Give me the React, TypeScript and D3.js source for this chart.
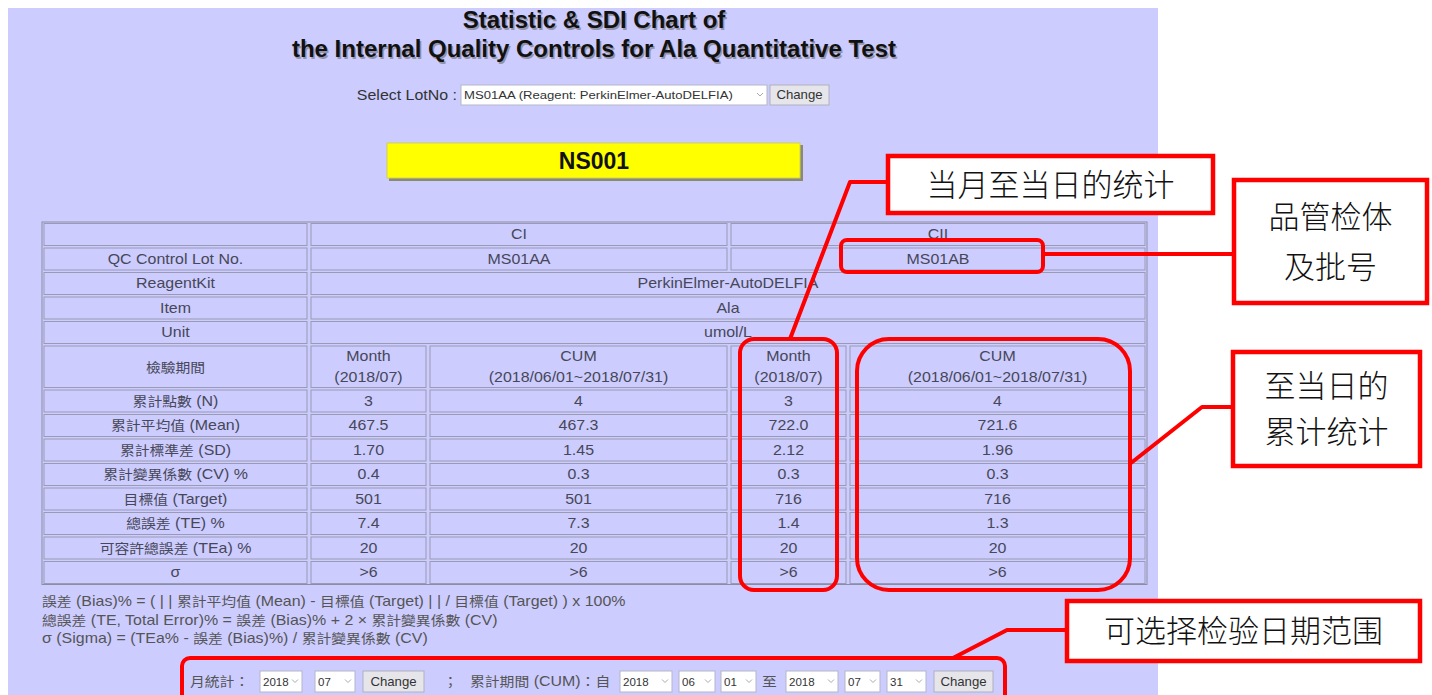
import React, { useEffect, useRef } from "react";
import * as d3 from "d3";

const titleLines = ["Statistic & SDI Chart of", "the Internal Quality Controls for Ala Quantitative Test"];
const lotOption = "MS01AA (Reagent: PerkinElmer-AutoDELFIA)";
const analyteCode = "NS001";

const levels = ["CI", "CII"];
const lotNos = ["MS01AA", "MS01AB"];
const infoLabels = ["QC Control Lot No.", "ReagentKit", "Item", "Unit"];
const infoValues = ["", "PerkinElmer-AutoDELFIA", "Ala", "umol/L"];
const periodLabel = "檢驗期間";
const periodHeads = [["Month", "(2018/07)"], ["CUM", "(2018/06/01~2018/07/31)"]];

const statLabels = [
	"累計點數 (N)",
	"累計平均值 (Mean)",
	"累計標準差 (SD)",
	"累計變異係數 (CV) %",
	"目標值 (Target)",
	"總誤差 (TE) %",
	"可容許總誤差 (TEa) %",
	"σ",
];
const ciMonth = ["3", "467.5", "1.70", "0.4", "501", "7.4", "20", ">6"];
const ciCum = ["4", "467.3", "1.45", "0.3", "501", "7.3", "20", ">6"];
const ciiMonth = ["3", "722.0", "2.12", "0.3", "716", "1.4", "20", ">6"];
const ciiCum = ["4", "721.6", "1.96", "0.3", "716", "1.3", "20", ">6"];

const formulas = [
	"誤差 (Bias)% = ( | | 累計平均值 (Mean) - 目標值 (Target) | | / 目標值 (Target) ) x 100%",
	"總誤差 (TE, Total Error)% = 誤差 (Bias)% + 2 × 累計變異係數 (CV)",
	"σ (Sigma) = (TEa% - 誤差 (Bias)%) / 累計變異係數 (CV)",
];

const notes = [
	["当月至当日的统计"],
	["品管检体", "及批号"],
	["至当日的", "累计统计"],
	["可选择检验日期范围"],
];

const W = 1432;
const H = 695;
const LAV = "#ccccff";
const RED = "#ff0000";
const SANS = "'Liberation Sans', Arial, 'Noto Sans CJK TC', sans-serif";
const CJK = "'Noto Sans CJK SC', sans-serif";
const SX = 1.14;

type Sel = d3.Selection<any, unknown, null, undefined>;

// text with a slight horizontal stretch; CJK runs a touch smaller like the bitmap font in the page
const stretchText = (
	parent: Sel,
	x: number,
	y: number,
	str: string,
	opt: { size?: number; cjk?: number; anchor?: string; fill?: string; sx?: number } = {}
) => {
	const size = opt.size ?? 14;
	const t = parent.append("text")
		.attr("transform", `translate(${x},${y}) scale(${opt.sx ?? SX},1)`)
		.attr("text-anchor", opt.anchor ?? "middle")
		.attr("font-family", SANS).attr("font-size", size)
		.attr("fill", opt.fill ?? "#474757");
	const runs = str.match(/[\u3000-\u9fff\uff00-\uffef]+|[^\u3000-\u9fff\uff00-\uffef]+/g) || [];
	runs.forEach((r) => {
		const isCjk = /[\u3000-\u9fff\uff00-\uffef]/.test(r);
		t.append("tspan").attr("font-size", isCjk ? opt.cjk ?? size - 1 : size).text(r);
	});
	return t;
};

const App: React.FC = () => {
	const svgRef = useRef<SVGSVGElement | null>(null);

	useEffect(() => {
		const svg: Sel = d3.select(svgRef.current);
		svg.selectAll("*").remove();

		svg.append("rect").attr("width", W).attr("height", H).attr("fill", "#fff");
		svg.append("rect").attr("x", 8).attr("y", 8).attr("width", 1150).attr("height", H).attr("fill", LAV);

		// title
		const cx = 594;
		titleLines.forEach((t, i) => {
			const y = 28 + i * 29;
			svg.append("text").attr("x", cx + 1.5).attr("y", y + 1.5).attr("text-anchor", "middle")
				.attr("font-family", SANS).attr("font-weight", "bold").attr("font-size", 24)
				.attr("fill", "#666").attr("opacity", 0.55).text(t);
			svg.append("text").attr("x", cx).attr("y", y).attr("text-anchor", "middle")
				.attr("font-family", SANS).attr("font-weight", "bold").attr("font-size", 24)
				.attr("fill", "#111").text(t);
		});

		const selectBox = (x: number, y: number, w: number, h: number, label: string, fs = 11, sx = 1.05) => {
			svg.append("rect").attr("x", x).attr("y", y).attr("width", w).attr("height", h)
				.attr("fill", "#fff").attr("stroke", "#b5b5c8");
			stretchText(svg, x + 3, y + h / 2 + 4, label, { size: fs, anchor: "start", fill: "#333", sx });
			svg.append("path").attr("d", `M${x + w - 10},${y + h / 2 - 2} l3,3 l3,-3`)
				.attr("fill", "none").attr("stroke", "#aaa");
		};
		const button = (x: number, y: number, w: number, h: number, label: string) => {
			svg.append("rect").attr("x", x).attr("y", y).attr("width", w).attr("height", h)
				.attr("fill", "#e6e6ea").attr("stroke", "#b0b0c0");
			stretchText(svg, x + w / 2, y + h / 2 + 4, label, { size: 12, fill: "#333", sx: 1.1 });
		};

		// lot selector
		stretchText(svg, 457, 100, "Select LotNo :", { anchor: "end", fill: "#333" });
		selectBox(461, 85, 306, 20, lotOption, 11.5, SX);
		button(770, 85, 59, 20, "Change");

		// analyte box
		svg.append("rect").attr("x", 389).attr("y", 145).attr("width", 414).attr("height", 36).attr("fill", "#8a8a70");
		svg.append("rect").attr("x", 387).attr("y", 143).attr("width", 413).attr("height", 35)
			.attr("fill", "#ffff00").attr("stroke", "#d0d060");
		svg.append("text").attr("x", 594).attr("y", 169).attr("text-anchor", "middle")
			.attr("font-family", SANS).attr("font-weight", "bold").attr("font-size", 23)
			.attr("fill", "#111").text(analyteCode);

		// table
		const colEdges = [42, 309, 428, 729, 848, 1147];
		const tTop = 222;
		const infoRows = ["level", ...infoLabels];
		const yInfo = d3.scaleBand<string>().domain(infoRows).range([tTop, tTop + 24.5 * infoRows.length]);
		const periodTop = yInfo.range()[1];
		const periodBottom = periodTop + 44;
		const yStat = d3.scaleBand<string>().domain(statLabels).range([periodBottom, periodBottom + 24.5 * statLabels.length]);
		const tBottom = yStat.range()[1];

		const tg: Sel = svg.append("g");
		tg.append("rect").attr("x", colEdges[0]).attr("y", tTop).attr("width", colEdges[5] - colEdges[0])
			.attr("height", tBottom - tTop).attr("fill", "none").attr("stroke", "#8c8ca8");

		const cell = (c0: number, c1: number, y0: number, y1: number, lines: string[]) => {
			const x0 = colEdges[c0] + 2;
			const x1 = colEdges[c1] - 2;
			tg.append("rect").attr("x", x0).attr("y", y0 + 1.5).attr("width", x1 - x0).attr("height", y1 - y0 - 2.5)
				.attr("fill", LAV).attr("stroke", "#9a9ab4");
			const mid = (y0 + y1) / 2;
			lines.forEach((l, i) => {
				if (!l) return;
				stretchText(tg, (x0 + x1) / 2, mid + 5 + (i - (lines.length - 1) / 2) * 21, l);
			});
		};

		const ly = yInfo("level")!;
		cell(0, 1, ly, ly + yInfo.bandwidth(), [""]);
		cell(1, 3, ly, ly + yInfo.bandwidth(), [levels[0]]);
		cell(3, 5, ly, ly + yInfo.bandwidth(), [levels[1]]);
		infoLabels.forEach((lab, i) => {
			const y0 = yInfo(lab)!;
			const y1 = y0 + yInfo.bandwidth();
			cell(0, 1, y0, y1, [lab]);
			if (i === 0) {
				cell(1, 3, y0, y1, [lotNos[0]]);
				cell(3, 5, y0, y1, [lotNos[1]]);
			} else {
				cell(1, 5, y0, y1, [infoValues[i]]);
			}
		});
		cell(0, 1, periodTop, periodBottom, [periodLabel]);
		[0, 1].forEach((lv) => {
			cell(1 + lv * 2, 2 + lv * 2, periodTop, periodBottom, periodHeads[0]);
			cell(2 + lv * 2, 3 + lv * 2, periodTop, periodBottom, periodHeads[1]);
		});
		const cols = [ciMonth, ciCum, ciiMonth, ciiCum];
		statLabels.forEach((lab, i) => {
			const y0 = yStat(lab)!;
			const y1 = y0 + yStat.bandwidth();
			cell(0, 1, y0, y1, [lab]);
			cols.forEach((vals, c) => cell(c + 1, c + 2, y0, y1, [vals[i]]));
		});

		// formulas
		formulas.forEach((f, i) => {
			stretchText(svg, 42, 606 + i * 18.5, f, { anchor: "start", fill: "#555" });
		});

		// bottom controls
		const by = 671;
		const bh = 21;
		const lbl = (x: number, t: string) => stretchText(svg, x, by + 15, t, { anchor: "start", fill: "#555" });
		lbl(190, "月統計：");
		selectBox(260, by, 42, bh, "2018");
		selectBox(315, by, 40, bh, "07");
		button(363, by, 61, bh, "Change");
		lbl(443, "；");
		lbl(470, "累計期間 (CUM)：自");
		selectBox(620, by, 52, bh, "2018");
		selectBox(679, by, 36, bh, "06");
		selectBox(721, by, 35, bh, "01");
		lbl(762, "至");
		selectBox(786, by, 52, bh, "2018");
		selectBox(845, by, 35, bh, "07");
		selectBox(887, by, 39, bh, "31");
		button(934, by, 59, bh, "Change");

		// annotations
		const ann = svg.append("g").attr("fill", "none").attr("stroke", RED).attr("stroke-width", 4)
			.attr("stroke-linejoin", "round");
		ann.append("rect").attr("x", 740).attr("y", 339).attr("width", 97).attr("height", 251).attr("rx", 14);
		ann.append("rect").attr("x", 857).attr("y", 339).attr("width", 273).attr("height", 251).attr("rx", 32);
		ann.append("rect").attr("x", 841).attr("y", 240).attr("width", 202).attr("height", 32).attr("rx", 6);
		ann.append("rect").attr("x", 182).attr("y", 658).attr("width", 823).attr("height", 60).attr("rx", 8);
		const line = d3.line();
		ann.append("path").attr("d", line([[888, 182], [850, 182], [790, 339]]));
		ann.append("path").attr("d", line([[1043, 254], [1233, 254]]));
		ann.append("path").attr("d", line([[1131, 463], [1202, 407], [1233, 407]]));
		ann.append("path").attr("d", line([[1067, 630], [1007, 630], [953, 658]]));

		const noteBoxes = [
			{ x: 888, y: 156, w: 325, h: 57, gap: 0 },
			{ x: 1234, y: 180, w: 193, h: 123, gap: 50 },
			{ x: 1233, y: 352, w: 187, h: 114, gap: 46 },
			{ x: 1067, y: 601, w: 353, h: 60, gap: 0 },
		];
		notes.forEach((ls, i) => {
			const b = noteBoxes[i];
			svg.append("rect").attr("x", b.x).attr("y", b.y).attr("width", b.w).attr("height", b.h)
				.attr("fill", "#fff").attr("stroke", RED).attr("stroke-width", 4.5);
			ls.forEach((l, j) => {
				svg.append("text").attr("x", b.x + b.w / 2)
					.attr("y", b.y + b.h / 2 + 11 + (j - (ls.length - 1) / 2) * b.gap)
					.attr("text-anchor", "middle").attr("font-family", CJK).attr("font-weight", 300)
					.attr("font-size", 31).attr("fill", "#111").text(l);
			});
		});
	}, []);

	return (
		<svg
			ref={svgRef}
			width={W}
			height={H}
			style={{ position: "absolute", left: 0, top: 0, display: "block" }}
		></svg>
	);
};

export default App;
